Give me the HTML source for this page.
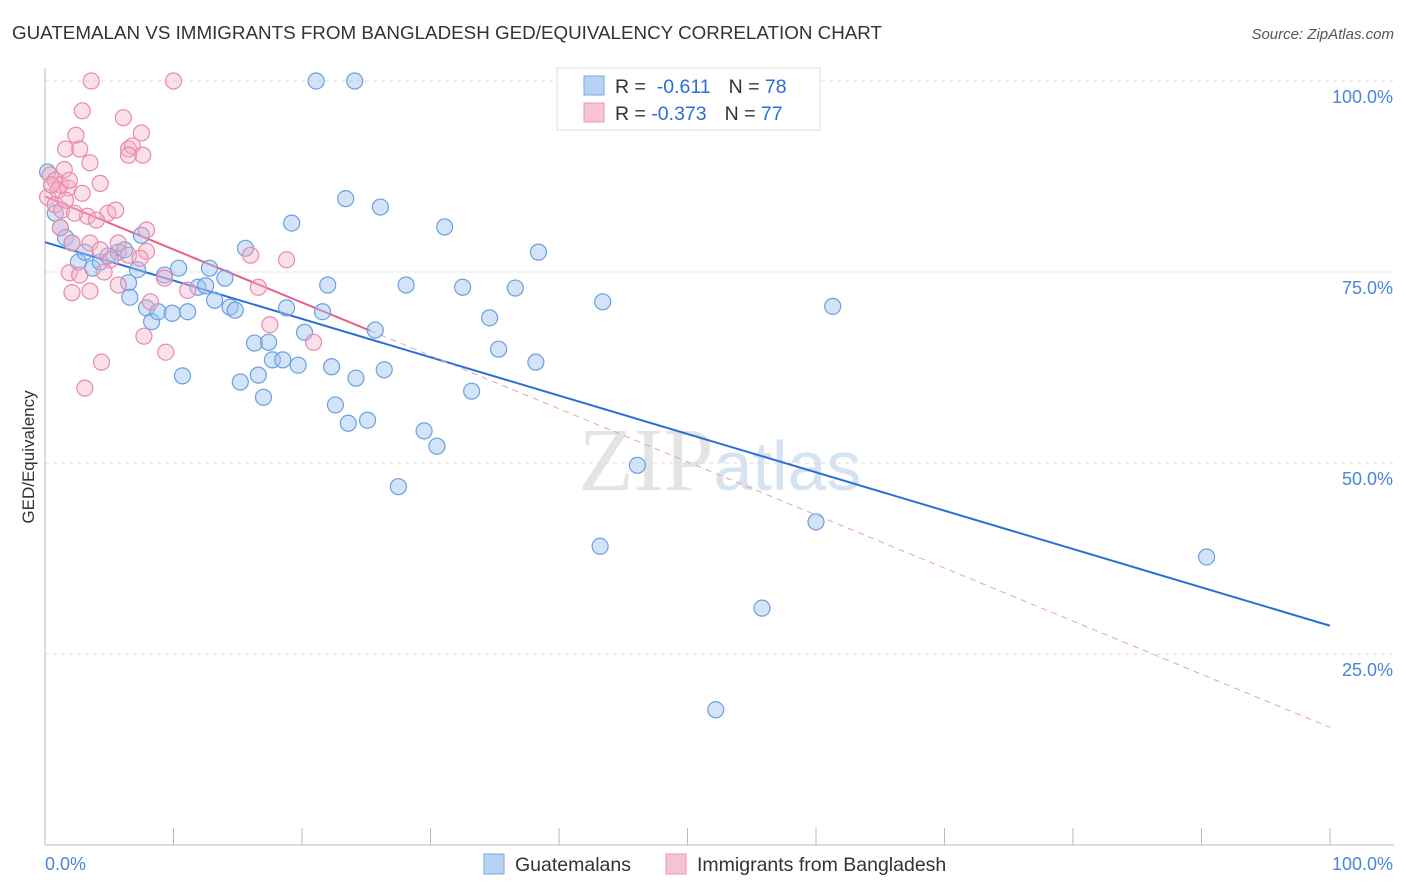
<!DOCTYPE html>
<html><head><meta charset="utf-8"><style>
body{margin:0;background:#fff;font-family:"Liberation Sans",sans-serif;}
svg{display:block}
</style></head><body>
<svg id="chart" width="1406" height="892" xmlns="http://www.w3.org/2000/svg">
<text x="12" y="39" font-size="18" fill="#333" textLength="870" lengthAdjust="spacingAndGlyphs">GUATEMALAN VS IMMIGRANTS FROM BANGLADESH GED/EQUIVALENCY CORRELATION CHART</text>
<text x="1394" y="39" font-size="15" fill="#555" font-style="italic" text-anchor="end">Source: ZipAtlas.com</text>
<text x="720" y="490" font-size="90" fill="#e4e4e4" text-anchor="middle" font-family="Liberation Serif,serif">ZIP<tspan fill="#d6e3f3" font-family="Liberation Sans,sans-serif" font-size="70">atlas</tspan></text>
<g id="grid"></g><g id="axes"></g><g id="trend"></g><g id="pts"></g>
<text transform="translate(34,457) rotate(-90)" font-size="17" fill="#333" text-anchor="middle">GED/Equivalency</text>
<g>
<rect x="557" y="68" width="263" height="62" fill="#fff" stroke="#ddd"/>
<rect x="584" y="76" width="20" height="19" fill="#b8d2f4" stroke="#7aa8e4"/>
<rect x="584" y="103" width="20" height="19" fill="#f8c4d4" stroke="#ec96b2"/>
<text x="615" y="93" font-size="19.5" fill="#333">R = <tspan fill="#2a6fd6">&#160;-0.611</tspan><tspan dx="18">N = </tspan><tspan fill="#2a6fd6">78</tspan></text>
<text x="615" y="120" font-size="19.5" fill="#333">R = <tspan fill="#2a6fd6">-0.373</tspan><tspan dx="18">N = </tspan><tspan fill="#2a6fd6">77</tspan></text>
</g>
<g>
<rect x="484" y="854" width="20" height="20" fill="#b8d2f4" stroke="#7aa8e4"/>
<text x="515" y="871" font-size="19.5" fill="#333">Guatemalans</text>
<rect x="666" y="854" width="20" height="20" fill="#f8c4d4" stroke="#ec96b2"/>
<text x="697" y="871" font-size="19.5" fill="#333">Immigrants from Bangladesh</text>
</g>
</svg>
<script>
const blueX=[21.1,24.1,0.2,0.8,1.2,1.6,2.1,2.6,3.1,3.7,4.3,4.9,5.7,6.2,6.5,6.6,7.2,7.5,7.9,8.3,8.8,9.3,9.9,10.4,10.7,11.1,11.9,12.5,12.8,13.2,14.0,14.4,14.8,15.2,15.6,16.3,16.6,17.0,17.4,17.7,18.5,18.8,19.2,19.7,20.2,21.6,22.0,22.3,22.6,23.4,23.6,24.2,25.1,25.7,26.1,26.4,27.5,28.1,29.5,30.5,31.1,32.5,33.2,34.6,35.3,36.6,38.2,38.4,43.2,43.4,46.1,55.8,52.2,60.0,61.3,90.4];
const blueY=[100,100,88.1,82.7,80.8,79.5,78.8,76.3,77.6,75.5,76.3,77.1,77.6,77.9,73.6,71.7,75.3,79.8,70.3,68.5,69.8,74.6,69.6,75.5,61.4,69.8,73.0,73.2,75.5,71.3,74.2,70.4,70.0,60.6,78.1,65.7,61.5,58.6,65.8,63.5,63.5,70.3,81.4,62.8,67.1,69.8,73.3,62.6,57.6,84.6,55.2,61.1,55.6,67.4,83.5,62.2,46.9,73.3,54.2,52.2,80.9,73.0,59.4,69.0,64.9,72.9,63.2,77.6,39.1,71.1,49.7,31.0,17.7,42.3,70.5,37.7];
const pinkX=[3.6,10.0,2.9,6.1,2.4,7.5,1.6,2.7,6.5,6.8,6.5,7.6,3.5,1.5,0.4,0.8,1.2,1.8,4.3,2.9,0.2,0.8,1.3,3.3,4.9,5.5,2.3,4.0,7.9,1.2,2.1,3.5,4.3,5.7,5.1,6.5,7.9,7.4,16.0,18.8,1.9,2.7,4.6,2.1,3.5,8.2,5.7,9.3,11.1,16.6,17.5,20.9,7.7,9.4,4.4,3.1,1.0,1.6,0.5,1.9];
const pinkY=[100,100,96.1,95.2,92.9,93.2,91.1,91.1,91.1,91.5,90.3,90.3,89.3,88.4,87.7,87.0,86.4,86.0,86.6,85.3,84.8,83.8,83.1,82.3,82.7,83.1,82.7,81.8,80.5,80.8,78.8,78.8,77.9,78.8,76.6,77.2,77.7,76.8,77.2,76.6,74.9,74.6,75.0,72.3,72.5,71.1,73.3,74.2,72.6,73.0,68.1,65.8,66.6,64.5,63.2,59.8,85.7,84.4,86.4,87.0];
const blueTrend=[78.9,28.7];
const pinkTrend=[84.9,15.4];
const pinkSolidEnd=25.3;
const yTicks=[25,50,75,100];
const yTickLabels=["25.0%","50.0%","75.0%","100.0%"];
const xTicks=[0,10,20,30,40,50,60,70,80,90,100];

const NS="http://www.w3.org/2000/svg";
const sx=v=>45+v*12.85, sy=v=>845-v*7.64;
function mk(tag,attrs,parent){const e=document.createElementNS(NS,tag);for(const k in attrs)e.setAttribute(k,attrs[k]);document.getElementById(parent).appendChild(e);return e;}
yTicks.forEach((t,i)=>{
 const g=mk('line',{x1:45,x2:1394,y1:sy(t),y2:sy(t),stroke:'#ddd','stroke-dasharray':'4,4'},'grid');
 
 
 const l=mk('text',{x:1393,y:sy(t)+22,'font-size':18,fill:'#4a86d8','text-anchor':'end'},'axes');
 l.textContent=yTickLabels[i];
 
 
});
const ax=mk('line',{x1:45,x2:45,y1:68,y2:845,stroke:'#bbb'},'axes');


const bx=mk('line',{x1:45,x2:1394,y1:845,y2:845,stroke:'#bbb'},'axes');


xTicks.forEach(t=>{
 const k=mk('line',{x1:sx(t),x2:sx(t),y1:828,y2:845,stroke:'#bbb'},'axes');
 
 
});
const xl0=mk('text',{x:45,y:870,'font-size':18,fill:'#4a86d8'},'axes');xl0.textContent='0.0%';


const xl1=mk('text',{x:1393,y:870,'font-size':18,fill:'#4a86d8','text-anchor':'end'},'axes');xl1.textContent='100.0%';



const pv=x=>pinkTrend[0]+(pinkTrend[1]-pinkTrend[0])*x/100;
const bt=mk('line',{x1:sx(0),y1:sy(blueTrend[0]),x2:sx(100),y2:sy(blueTrend[1]),stroke:'#2a6fd6','stroke-width':2},'trend');


const pd=mk('line',{x1:sx(pinkSolidEnd),y1:sy(pv(pinkSolidEnd)),x2:sx(100),y2:sy(pinkTrend[1]),stroke:'#e8a0b8','stroke-width':1,'stroke-dasharray':'6,5'},'trend');


const ps=mk('line',{x1:sx(0),y1:sy(pinkTrend[0]),x2:sx(pinkSolidEnd),y2:sy(pv(pinkSolidEnd)),stroke:'#e8608a','stroke-width':2},'trend');



blueX.forEach((x,i)=>{
 const c=mk('circle',{cx:sx(x),cy:sy(blueY[i]),r:8,fill:'rgba(160,196,240,0.45)',stroke:'#6a9fe0','stroke-width':1.2},'pts');
 
 
});
pinkX.forEach((x,i)=>{
 const c=mk('circle',{cx:sx(x),cy:sy(pinkY[i]),r:8,fill:'rgba(245,175,200,0.4)',stroke:'#e88aac','stroke-width':1.2},'pts');
 
 
});
</script>
</body></html>
